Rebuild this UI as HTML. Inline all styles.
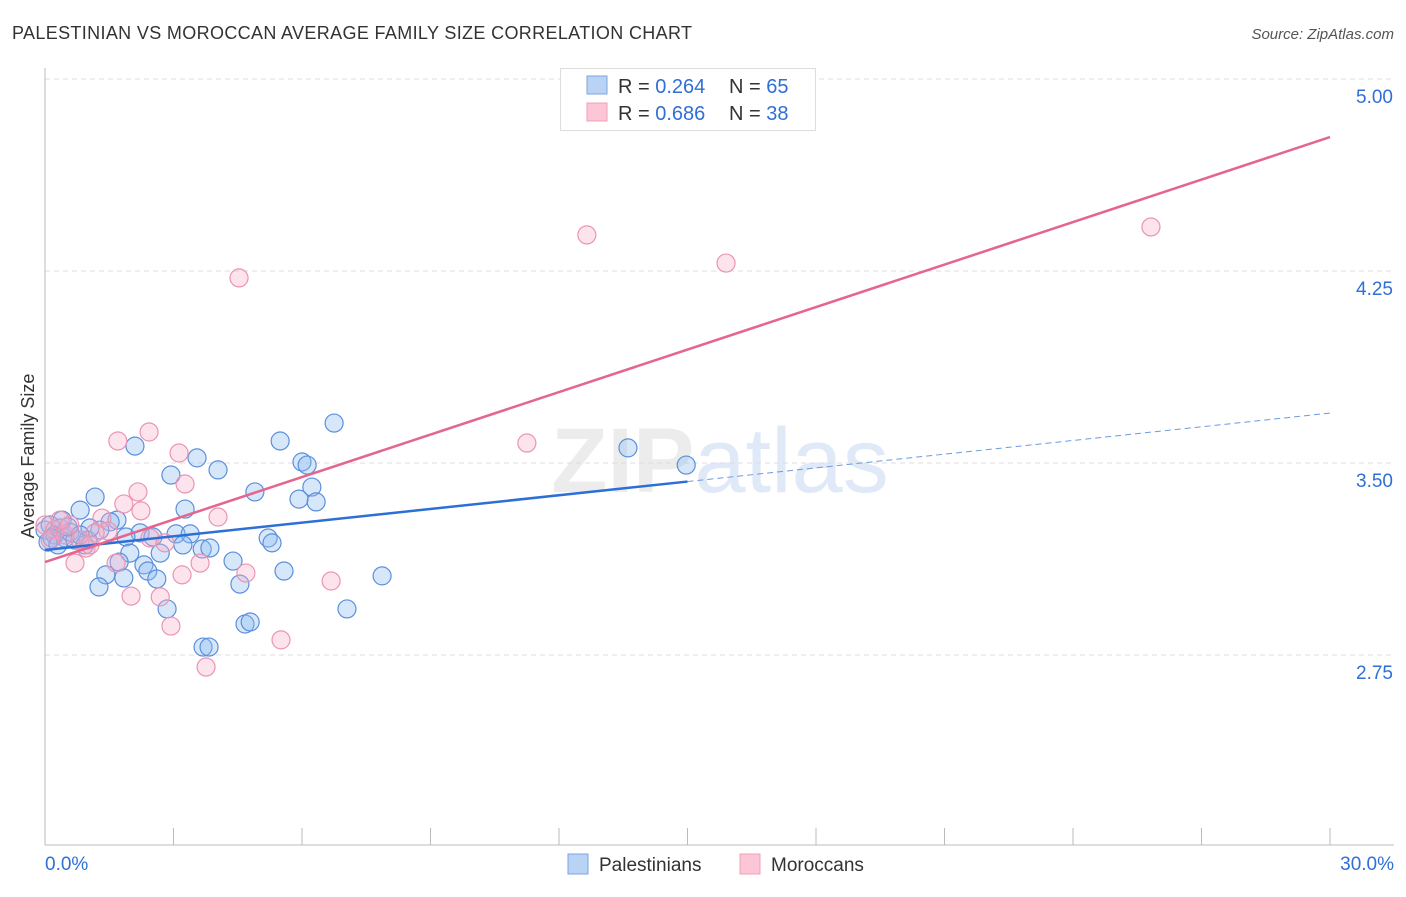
<!DOCTYPE html>
<html><head><meta charset="utf-8"><style>
body{margin:0;background:#fff;font-family:"Liberation Sans",sans-serif;}
svg text{font-family:"Liberation Sans",sans-serif;}
</style></head><body>
<svg id="chart" width="1406" height="892">
<text x="12" y="39" font-size="18" fill="#333" textLength="680">PALESTINIAN VS MOROCCAN AVERAGE FAMILY SIZE CORRELATION CHART</text>
<text x="1394" y="39" font-size="15" fill="#555" font-style="italic" text-anchor="end">Source: ZipAtlas.com</text>
<text x="720" y="492" font-size="92" fill="#ececec" text-anchor="middle" font-family="Liberation Serif"><tspan font-weight="bold">ZIP</tspan><tspan fill="#dfe9f7" font-family="Liberation Sans">atlas</tspan></text>
<g id="grid"></g>
<g id="axes"></g>
<g id="marks"></g>
<text transform="translate(34,456) rotate(-90)" font-size="18" fill="#333" text-anchor="middle">Average Family Size</text>
<g>
<rect x="560.5" y="68.5" width="255" height="62" fill="#fff" stroke="#ddd"/>
<rect x="587" y="76" width="20" height="18" fill="#b9d3f5" stroke="#7aa6e0"/>
<rect x="587" y="103" width="20" height="18" fill="#fcc6d6" stroke="#f0a0bb"/>
<text x="618" y="93" font-size="20" fill="#333">R = <tspan fill="#2f6fd6">0.264</tspan></text>
<text x="729" y="93" font-size="20" fill="#333">N = <tspan fill="#2f6fd6">65</tspan></text>
<text x="618" y="120" font-size="20" fill="#333">R = <tspan fill="#2f6fd6">0.686</tspan></text>
<text x="729" y="120" font-size="20" fill="#333">N = <tspan fill="#2f6fd6">38</tspan></text>
</g>
<g>
<rect x="568" y="854" width="20" height="20" fill="#b9d3f5" stroke="#7aa6e0"/>
<text x="599" y="871" font-size="19" fill="#333">Palestinians</text>
<rect x="740" y="854" width="20" height="20" fill="#fcc6d6" stroke="#f0a0bb"/>
<text x="771" y="871" font-size="19" fill="#333">Moroccans</text>
</g>
</svg>
<script>
const xTickVals=[0,3,6,9,12,15,18,21,24,27,30];
const yTickVals=[5.00,4.25,3.50,2.75];
const yTickLabels=["5.00","4.25","3.50","2.75"];
const blueX=[2.10,2.94,3.55,4.04,5.49,6.00,6.12,6.75,4.90,5.93,6.23,6.33,3.27,1.17,0.82,1.68,1.52,2.22,3.06,3.39,2.52,1.89,3.22,3.67,3.85,1.98,2.69,5.21,5.30,4.39,2.31,2.40,1.73,1.42,1.84,2.61,1.26,4.55,5.58,7.87,2.85,7.05,4.67,4.79,3.69,3.83,13.61,14.97,0.0,0.12,0.23,0.35,0.47,0.58,0.70,0.93,1.00,1.28,1.05,0.40,0.16,0.07,0.30,0.54,0.82];
const blueY=[3.566,3.453,3.520,3.473,3.586,3.504,3.492,3.656,3.387,3.359,3.406,3.348,3.320,3.367,3.316,3.277,3.270,3.227,3.223,3.223,3.211,3.211,3.180,3.164,3.168,3.148,3.148,3.207,3.188,3.117,3.102,3.078,3.113,3.063,3.051,3.047,3.016,3.027,3.078,3.059,2.930,2.930,2.871,2.879,2.781,2.781,3.559,3.492,3.238,3.258,3.219,3.246,3.207,3.230,3.199,3.180,3.199,3.238,3.246,3.277,3.207,3.191,3.180,3.250,3.219];
const pinkX=[1.70,2.43,3.13,3.27,2.17,1.84,2.24,1.33,4.04,1.47,2.45,2.80,0.96,0.70,1.66,3.20,3.62,4.69,6.68,2.01,2.69,2.94,5.51,3.76,4.53,12.65,15.90,25.82,11.25,0,0.23,0.47,0.12,0.58,0.82,1.17,0.35,1.05];
const pinkY=[3.586,3.621,3.539,3.418,3.387,3.340,3.313,3.285,3.289,3.234,3.207,3.188,3.168,3.109,3.109,3.063,3.109,3.070,3.039,2.980,2.977,2.863,2.809,2.703,4.223,4.391,4.281,4.422,3.578,3.258,3.238,3.219,3.199,3.258,3.199,3.227,3.277,3.180];
const blueLine=[3.160,3.695]; const blueSolidEnd=15;
const pinkLine=[3.113,4.773];
const NS="http://www.w3.org/2000/svg";
const sx=v=>45+v/30*1285, sy=v=>79+(5-v)*256;
function mk(t,a,p){const e=document.createElementNS(NS,t);for(const k in a)e.setAttribute(k,a[k]);p.appendChild(e);return e;}
const grid=document.getElementById('grid'),axes=document.getElementById('axes'),marks=document.getElementById('marks');
yTickVals.forEach((v,i)=>{
 const g=mk('line',{x1:45,x2:1394,y1:sy(v),y2:sy(v),stroke:'#ddd','stroke-dasharray':'5,4'},grid);
 
 
 const t=mk('text',{x:1393,y:sy(v)+24,'font-size':19,fill:'#2f6fd6','text-anchor':'end'},axes);t.textContent=yTickLabels[i];
 
 
});
const xa=mk('line',{x1:45,x2:1394,y1:845,y2:845,stroke:'#bbb'},axes);


const ya=mk('line',{x1:45,x2:45,y1:68,y2:845,stroke:'#bbb'},axes);


xTickVals.forEach(v=>{const l=mk('line',{x1:sx(v),x2:sx(v),y1:828,y2:845,stroke:'#bbb'},axes);
 
 });
const x0=mk('text',{x:45,y:870,'font-size':19,fill:'#2f6fd6'},axes);x0.textContent=xTickVals[0].toFixed(1)+'%';


const x1=mk('text',{x:1394,y:870,'font-size':19,fill:'#2f6fd6','text-anchor':'end'},axes);x1.textContent=xTickVals[xTickVals.length-1].toFixed(1)+'%';


blueX.forEach((x,i)=>{const c=mk('circle',{cx:sx(x),cy:sy(blueY[i]),r:9,fill:'rgba(140,185,240,0.35)',stroke:'#5b8fdc','stroke-width':1.2},marks);
 
 });
pinkX.forEach((x,i)=>{const c=mk('circle',{cx:sx(x),cy:sy(pinkY[i]),r:9,fill:'rgba(248,175,200,0.35)',stroke:'#eb94b2','stroke-width':1.2},marks);
 
 });
const bAt=x=>blueLine[0]+(blueLine[1]-blueLine[0])*x/30;
const bl=mk('line',{x1:sx(0),y1:sy(bAt(0)),x2:sx(blueSolidEnd),y2:sy(bAt(blueSolidEnd)),stroke:'#2c6fd6','stroke-width':2.5},marks);


const bd=mk('line',{x1:sx(blueSolidEnd),y1:sy(bAt(blueSolidEnd)),x2:sx(30),y2:sy(bAt(30)),stroke:'#6b9ae0','stroke-width':1,'stroke-dasharray':'6,4'},marks);


const pl=mk('line',{x1:sx(0),y1:sy(pinkLine[0]),x2:sx(30),y2:sy(pinkLine[1]),stroke:'#e46690','stroke-width':2.5},marks);


</script>
</body></html>
